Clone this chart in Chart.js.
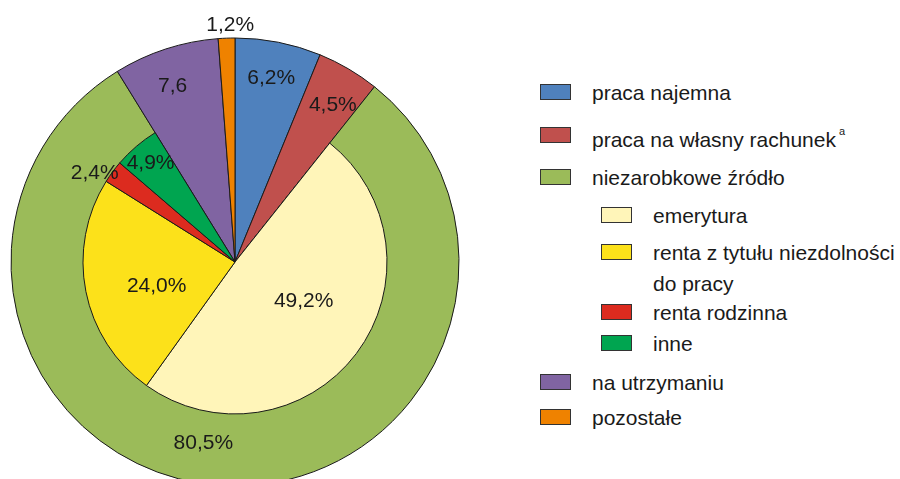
<!DOCTYPE html>
<html lang="pl">
<head>
<meta charset="utf-8">
<script src="https://cdn.jsdelivr.net/npm/chart.js@4/dist/chart.umd.min.js"></script>
<style>
    html, body { margin: 0; padding: 0; background: #fff; width: 900px; height: 479px; overflow: hidden; }
    .pie-wrap { position: absolute; left: 0; top: 0; width: 470px; height: 524px; }
    .pie-wrap canvas { position: absolute; left: 0; top: 0; }
    .legend { position: absolute; left: 0; top: 0; font-family: "Liberation Sans", Arial, sans-serif; font-size: 21px; color: #1a1a1a; }
    .legend .box { position: absolute; width: 31px; height: 16px; border: 1px solid #333; box-sizing: border-box; }
    .legend .text { position: absolute; line-height: 31px; width: 260px; }
    .legend sup { font-size: 11px; position: relative; top: -4px; margin-left: 3px; }
</style>
</head>
<body>
<div class="pie-wrap">
    <canvas id="outer-pie" width="470" height="524"></canvas>
    <canvas id="inner-pie" width="470" height="524"></canvas>
</div>
<div class="legend" id="legend"></div>

<script>
"use strict";

// outer ring: main sources of income
const outerLabels = ['praca najemna', 'praca na własny rachunek', 'niezarobkowe źródło', 'na utrzymaniu', 'pozostałe'];
const outerValues = [6.2, 4.5, 80.5, 7.6, 1.2];
const outerTexts = ['6,2%', '4,5%', '80,5%', '7,6', '1,2%'];
const outerColors = ['#4f81bd', '#c0504d', '#9bbb59', '#8064a2', '#ef8200'];

// inner pie: split of "niezarobkowe źródło"
const innerLabels = ['emerytura', 'renta z tytułu niezdolności do pracy', 'renta rodzinna', 'inne'];
const innerValues = [49.2, 24.0, 2.4, 4.9];
const innerTexts = ['49,2%', '24,0%', '2,4%', '4,9%'];
const innerColors = ['#fff5b9', '#fce11a', '#dc2b1f', '#00a550'];

const footnotes = { 'praca na własny rachunek': 'a' };

const EDGE = '#1a1a1a';

// label placement: radius in px, angle tweak in degrees
const outerPlaces = [{ r: 187, a: 0 }, { r: 185, a: 1.5 }, { r: 184, a: 6.5 }, { r: 187, a: -1.5 }, { r: 237, a: 1 }];
const innerPlaces = [null, null, { r: 79, a: -7.5 }, { r: 82, a: -6 }, { r: 166, a: -4 }, { r: 130, a: 0 }, null, null];

function makeLabelPlugin(texts, places) {
    return {
        id: 'sliceLabels',
        afterDatasetsDraw(chart) {
            const ctx = chart.ctx;
            const arcs = chart.getDatasetMeta(0).data;
            ctx.save();
            ctx.font = '21px "Liberation Sans", Arial, sans-serif';
            ctx.fillStyle = '#1a1a1a';
            ctx.textAlign = 'center';
            ctx.textBaseline = 'middle';
            arcs.forEach((arc, i) => {
                const place = places[i];
                if (!place || !texts[i]) {
                    return;
                }
                const mid = (arc.startAngle + arc.endAngle) / 2 + place.a * Math.PI / 180;
                ctx.fillText(texts[i], arc.x + place.r * Math.cos(mid), arc.y + place.r * Math.sin(mid));
            });
            ctx.restore();
        }
    };
}

const baseOptions = {
    responsive: false,
    animation: false,
    events: [],
    layout: { padding: 0 },
    plugins: {
        legend: { display: false },
        tooltip: { enabled: false }
    }
};

new Chart(document.querySelector('#outer-pie').getContext('2d'), {
    type: 'pie',
    data: {
        labels: outerLabels,
        datasets: [{
            data: outerValues,
            backgroundColor: outerColors,
            borderColor: EDGE,
            borderWidth: 1,
            radius: 224
        }]
    },
    options: baseOptions,
    plugins: [makeLabelPlugin(outerTexts, outerPlaces)]
});

// inner pie spans the whole circle; the slices outside "niezarobkowe" stay see-through
const innerData = [outerValues[0], outerValues[1], ...innerValues, outerValues[3], outerValues[4]];
const innerFill = ['transparent', 'transparent', ...innerColors, 'transparent', 'transparent'];
const innerBorder = [0, 0, 1, 1, 1, 1, 0, 0];
const innerTextList = ['', '', ...innerTexts, '', ''];

new Chart(document.querySelector('#inner-pie').getContext('2d'), {
    type: 'pie',
    data: {
        labels: ['', '', ...innerLabels, '', ''],
        datasets: [{
            data: innerData,
            backgroundColor: innerFill,
            borderColor: EDGE,
            borderWidth: innerBorder,
            radius: 152
        }]
    },
    options: baseOptions,
    plugins: [makeLabelPlugin(innerTextList, innerPlaces)]
});

// legend, built from the same arrays
const legendRows = [
    { label: outerLabels[0], color: outerColors[0], level: 0 },
    { label: outerLabels[1], color: outerColors[1], level: 0 },
    { label: outerLabels[2], color: outerColors[2], level: 0 },
    { label: innerLabels[0], color: innerColors[0], level: 1 },
    { label: innerLabels[1], color: innerColors[1], level: 1 },
    { label: innerLabels[2], color: innerColors[2], level: 1 },
    { label: innerLabels[3], color: innerColors[3], level: 1 },
    { label: outerLabels[3], color: outerColors[3], level: 0 },
    { label: outerLabels[4], color: outerColors[4], level: 0 }
];
const rowCenters = [92, 135, 177, 215, 252, 312, 343, 382, 417];
const boxX = [540, 601];
const textX = [592, 653];

const legend = document.querySelector('#legend');
legendRows.forEach((row, i) => {
    const box = document.createElement('div');
    box.className = 'box';
    box.style.left = boxX[row.level] + 'px';
    box.style.top = (rowCenters[i] - 8) + 'px';
    box.style.background = row.color;
    legend.appendChild(box);

    const text = document.createElement('div');
    text.className = 'text';
    text.style.left = textX[row.level] + 'px';
    text.style.top = (rowCenters[i] - 15.5) + 'px';
    text.textContent = row.label;
    if (footnotes[row.label]) {
        const sup = document.createElement('sup');
        sup.textContent = footnotes[row.label];
        text.appendChild(sup);
    }
    legend.appendChild(text);
});
</script>
</body>
</html>
